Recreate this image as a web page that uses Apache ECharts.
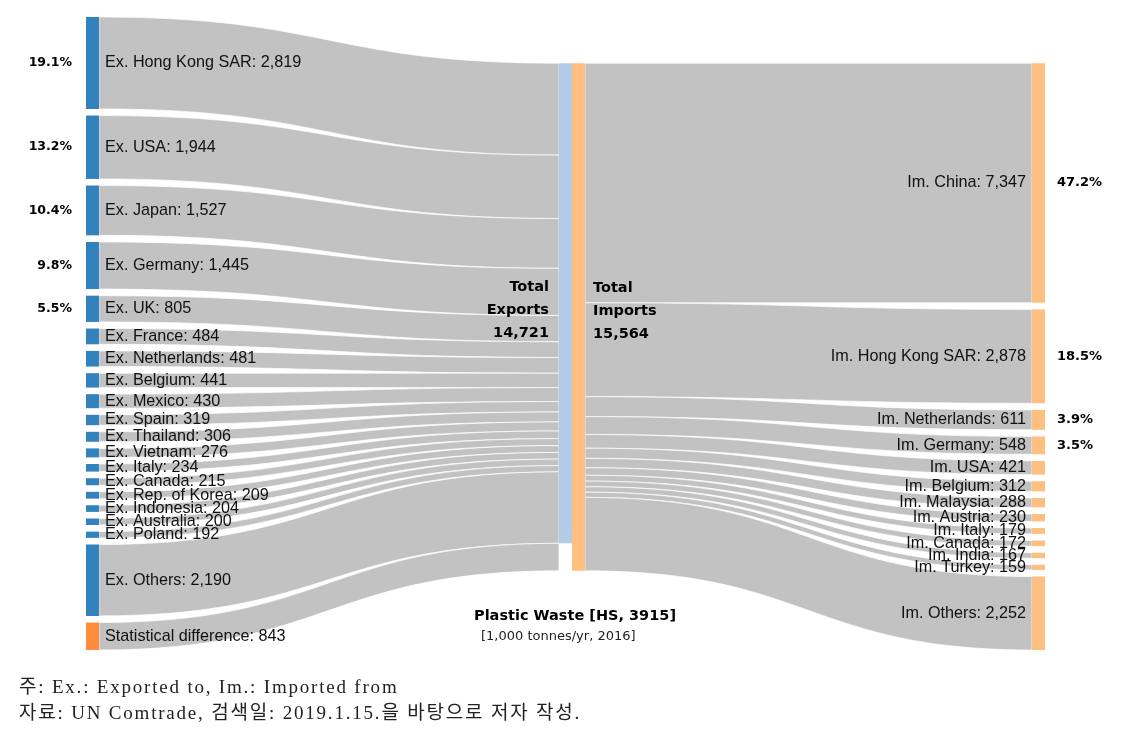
<!DOCTYPE html>
<html>
<head>
<meta charset="utf-8">
<script src="https://cdn.jsdelivr.net/npm/echarts@6/dist/echarts.min.js"></script>
<style>
  html, body { margin: 0; padding: 0; background: #fff; }
  #wrap { position: relative; width: 1136px; height: 729px; }
  #chart { position: absolute; left: 0; top: 0; width: 1136px; height: 729px; }
  .note { position: absolute; left: 19px; font-family: 'Liberation Serif', 'Noto Sans CJK KR', serif; font-size: 19px; letter-spacing: 1.8px; color: #222; white-space: nowrap; }
</style>
</head>
<body>
<div id="wrap">
  <div id="chart"></div>
  <div class="note" style="top:671px">주: Ex.: Exported to, Im.: Imported from</div>
  <div class="note" style="top:697px">자료: UN Comtrade, 검색일: 2019.1.15.을 바탕으로 저자 작성.</div>
</div>
<script>
// ---- data (1,000 tonnes/yr, 2016) ----
const exporters = ['Hong Kong SAR','USA','Japan','Germany','UK','France','Netherlands','Belgium','Mexico','Spain','Thailand','Vietnam','Italy','Canada','Rep. of Korea','Indonesia','Australia','Poland','Others'];
const exportValues = [2819,1944,1527,1445,805,484,481,441,430,319,306,276,234,215,209,204,200,192,2190];
const importers = ['China','Hong Kong SAR','Netherlands','Germany','USA','Belgium','Malaysia','Austria','Italy','Canada','India','Turkey','Others'];
const importValues = [7347,2878,611,548,421,312,288,230,179,172,167,159,2252];
const statDiff = 843;
const pctLeftCount = 5;   // exporters with share label
const pctRightCount = 4;  // importers with share label

const totalExports = exportValues.reduce((a, b) => a + b, 0);
const totalImports = importValues.reduce((a, b) => a + b, 0);
const fmt = v => v.toLocaleString('en-US');

// ---- layout constants ----
const TOP = 17, HEIGHT = 633, GAP = 6.6, NODE_W = 13;
const LEFT_X = 86, MID_X = 558, RIGHT_X = 1032;
const nLeft = exporters.length + 1;
const ky = (HEIGHT - (nLeft - 1) * GAP) / totalImports;
const offsetB = (nLeft - importers.length) * GAP;

const BLUE = '#3182bd', ORANGE = '#fd8d3c', LBLUE = '#b3cbe8', LORANGE = '#ffbf80', LINK = '#c2c2c2';
const nameFont = { fontFamily: 'Liberation Sans, Arial, sans-serif', fontSize: 16.2, color: '#111' };
const boldFont = { fontFamily: 'DejaVu Sans, Verdana, sans-serif', fontWeight: 'bold', color: '#000' };

function leftNodes(forPct) {
  const arr = exporters.map((c, i) => ({
    name: 'Ex. ' + c,
    value: exportValues[i],
    itemStyle: { color: forPct ? 'rgba(0,0,0,0)' : BLUE },
    label: forPct
      ? { show: i < pctLeftCount, position: 'left', distance: 14, ...boldFont, fontSize: 12.5,
          formatter: (exportValues[i] / totalExports * 100).toFixed(1) + '%' }
      : { show: true, position: 'right', distance: 6, ...nameFont, formatter: '{b}: ' + fmt(exportValues[i]) }
  }));
  arr.push({
    name: 'Statistical difference',
    value: statDiff,
    itemStyle: { color: forPct ? 'rgba(0,0,0,0)' : ORANGE },
    label: forPct ? { show: false } : { show: true, position: 'right', distance: 6, ...nameFont, formatter: '{b}: ' + fmt(statDiff) }
  });
  arr.push({
    name: 'Total Exports',
    value: totalExports,
    localY: offsetB / HEIGHT,
    itemStyle: { color: forPct ? 'rgba(0,0,0,0)' : LBLUE },
    label: forPct ? { show: false } : { show: true, position: 'left', distance: 10, offset: [0, 7], ...boldFont, fontSize: 14.5, lineHeight: 23, align: 'right',
      formatter: 'Total\nExports\n' + fmt(totalExports) }
  });
  arr.push({
    name: 'Statistical difference (to imports)',
    value: statDiff,
    localY: (offsetB + totalExports * ky) / HEIGHT,
    itemStyle: { color: 'rgba(0,0,0,0)' },
    label: { show: false }
  });
  return arr;
}
function leftLinks() {
  const l = exporters.map((c, i) => ({ source: 'Ex. ' + c, target: 'Total Exports', value: exportValues[i] }));
  l.push({ source: 'Statistical difference', target: 'Statistical difference (to imports)', value: statDiff });
  return l;
}
function rightNodes(forPct) {
  const arr = [{
    name: 'Total Imports',
    value: totalImports,
    itemStyle: { color: forPct ? 'rgba(0,0,0,0)' : LORANGE },
    label: forPct ? { show: false } : { show: true, position: 'right', distance: 8, offset: [0, -6], ...boldFont, fontSize: 14.5, lineHeight: 23, align: 'left',
      formatter: 'Total\nImports\n' + fmt(totalImports) }
  }];
  importers.forEach((c, i) => arr.push({
    name: 'Im. ' + c,
    value: importValues[i],
    itemStyle: { color: forPct ? 'rgba(0,0,0,0)' : LORANGE },
    label: forPct
      ? { show: i < pctRightCount, position: 'right', distance: 12, ...boldFont, fontSize: 13,
          formatter: (importValues[i] / totalImports * 100).toFixed(1) + '%' }
      : { show: true, position: 'left', distance: 6, ...nameFont, formatter: '{b}: ' + fmt(importValues[i]) }
  }));
  return arr;
}
function rightLinks() {
  return importers.map((c, i) => ({ source: 'Total Imports', target: 'Im. ' + c, value: importValues[i] }));
}

function sankey(id, box, nodes, links, visible) {
  return {
    type: 'sankey', id: id,
    left: box.left, top: box.top, width: box.width, height: box.height,
    nodeWidth: NODE_W, nodeGap: GAP, layoutIterations: 0, draggable: false,
    silent: !visible, emphasis: { disabled: true },
    data: nodes, links: links,
    itemStyle: { borderWidth: 0 },
    lineStyle: visible
      ? { color: LINK, opacity: 1, curveness: 0.5, borderColor: '#ffffff', borderWidth: 0.7 }
      : { color: 'rgba(0,0,0,0)', opacity: 0, curveness: 0.5 },
    animation: false
  };
}

const boxA = { left: LEFT_X, top: TOP, width: MID_X + NODE_W + 1 - LEFT_X, height: HEIGHT };
const boxB = { left: MID_X + NODE_W + 1, top: TOP + offsetB, width: RIGHT_X + NODE_W - (MID_X + NODE_W + 1), height: HEIGHT - offsetB };

const chart = echarts.init(document.getElementById('chart'), null, { renderer: 'canvas' });
chart.setOption({
  backgroundColor: '#fff',
  animation: false,
  title: [
    { text: 'Plastic Waste [HS, 3915]', left: 469, top: 604, padding: 5,
      textStyle: { ...boldFont, fontSize: 14.5 } },
    { text: '[1,000 tonnes/yr, 2016]', left: 476, top: 625, padding: 5,
      textStyle: { fontFamily: 'DejaVu Sans, Verdana, sans-serif', fontWeight: 'normal', fontSize: 13, color: '#222' } }
  ],
  series: [
    sankey('A', boxA, leftNodes(false), leftLinks(), true),
    sankey('B', boxB, rightNodes(false), rightLinks(), true),
    sankey('A2', boxA, leftNodes(true), leftLinks(), false),
    sankey('B2', boxB, rightNodes(true), rightLinks(), false)
  ]
});
</script>
</body>
</html>
